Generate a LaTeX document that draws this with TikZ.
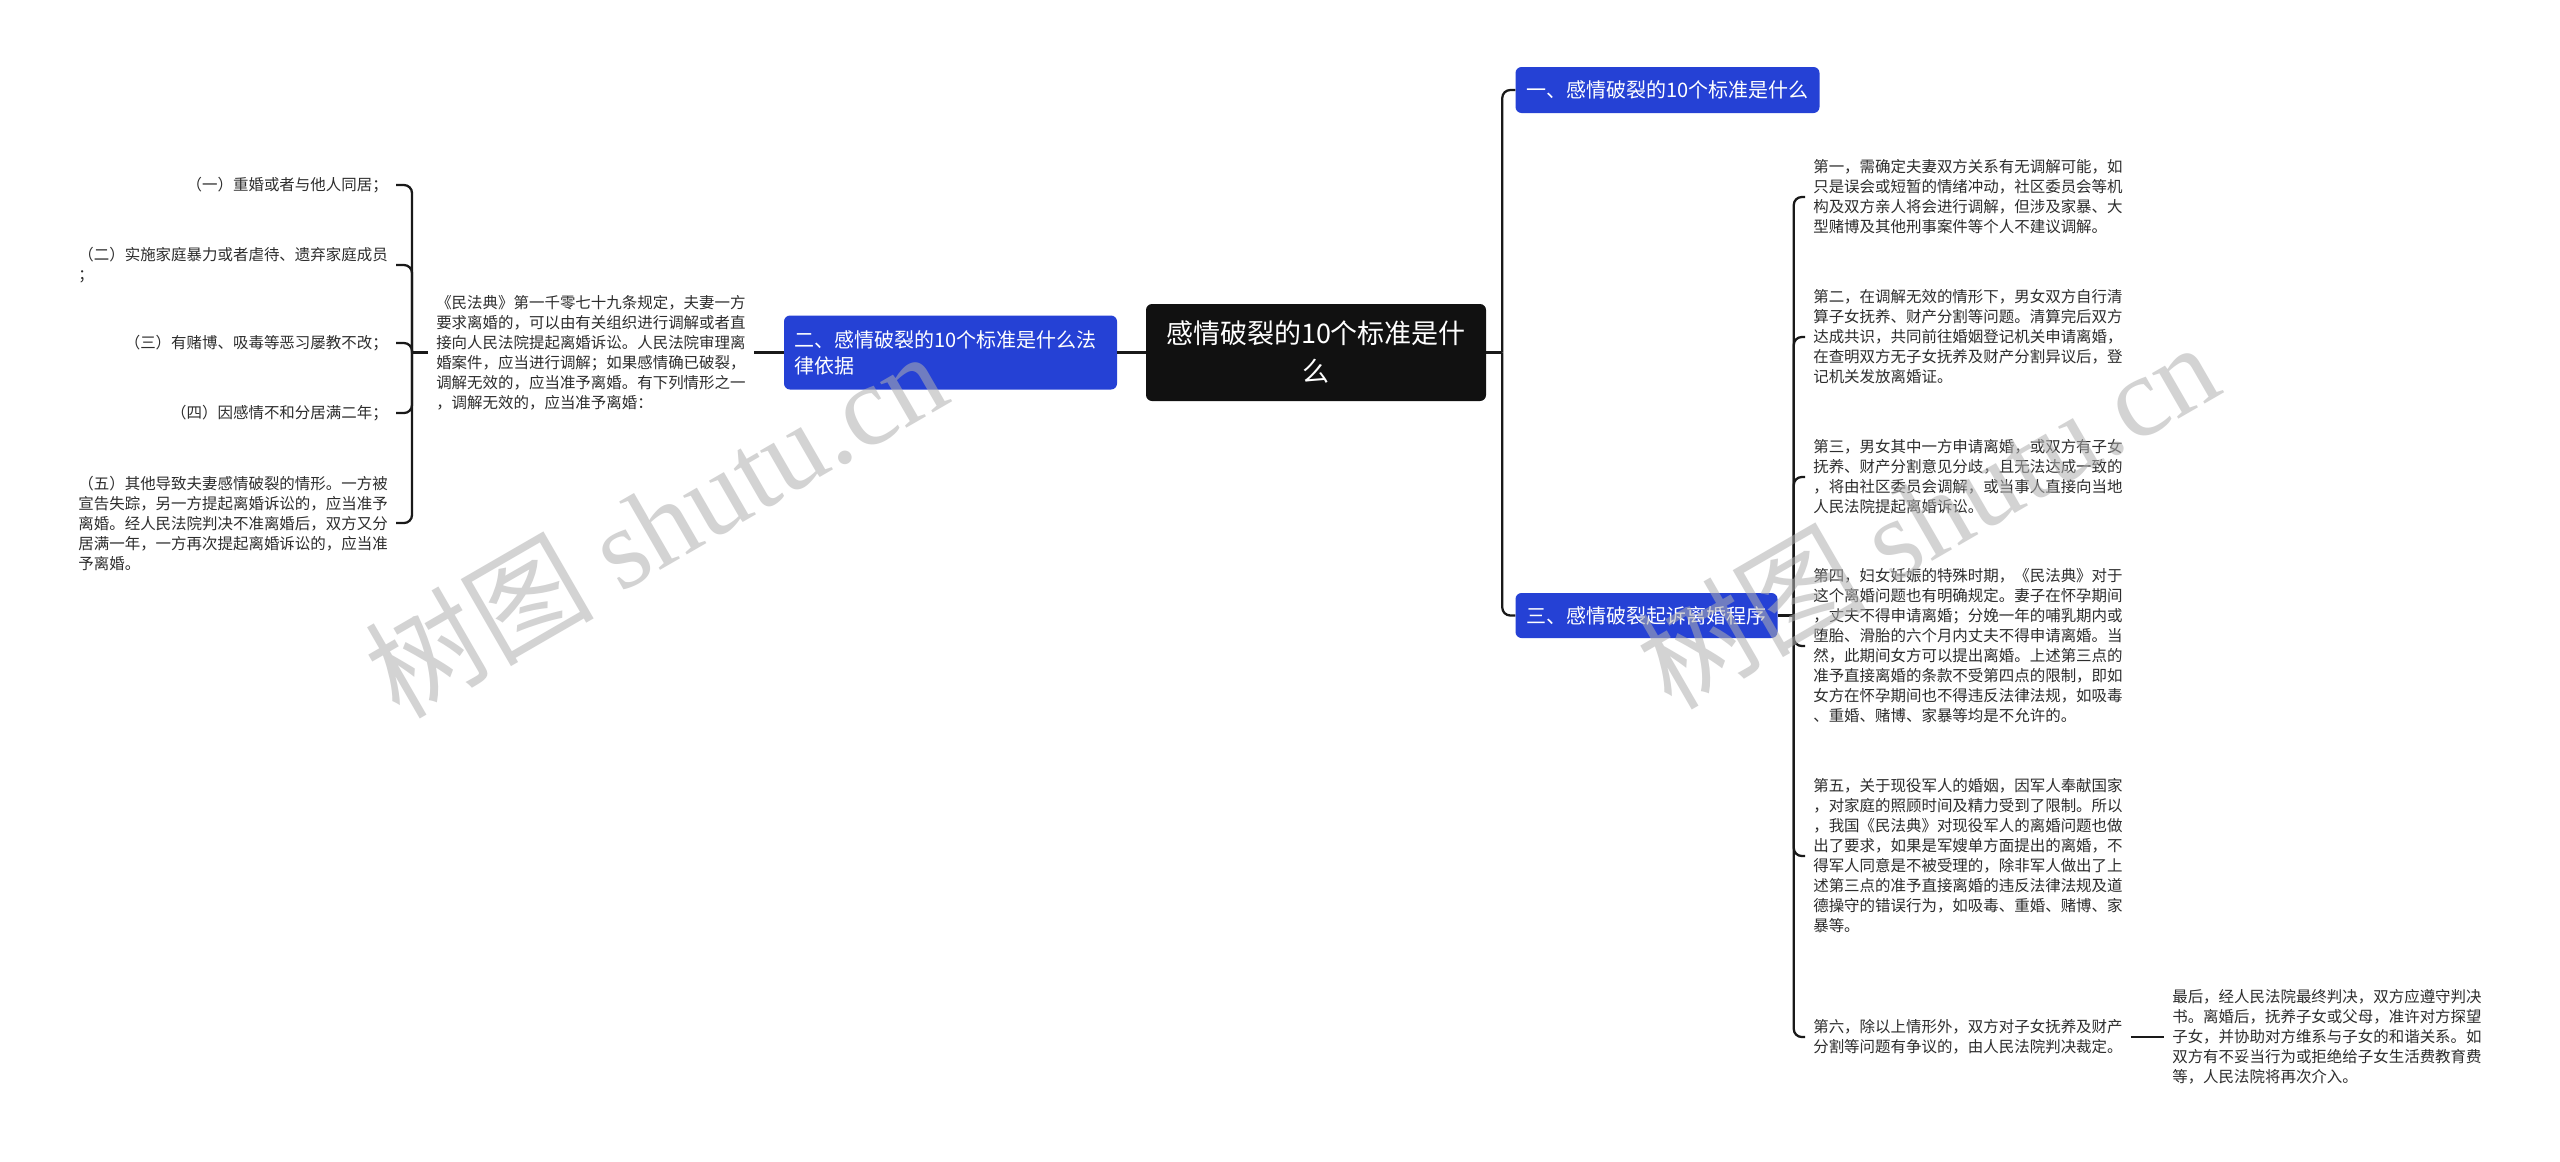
\documentclass[tikz,border=0pt]{standalone}
\usepackage{fontspec}
\newfontfamily\cjk{Noto Sans CJK SC}
\newfontfamily\wmserif{Liberation Serif}
\definecolor{blueboxc}{RGB}{37,65,213}
\definecolor{darkboxc}{RGB}{17,17,17}
\definecolor{connc}{RGB}{25,25,25}
\definecolor{leafc}{RGB}{45,45,45}
\definecolor{wmc}{RGB}{175,175,175}
\begin{document}
\begin{tikzpicture}[x=0.75pt,y=-0.75pt,
  leaf/.style={font=\cjk\fontsize{11.6}{15}\selectfont, align=left, inner xsep=6pt, inner ysep=3pt, text=leafc},
  bluenode/.style={fill=blueboxc, rounded corners=4.5pt, text=white, font=\cjk\fontsize{15}{19.5}\selectfont, inner sep=0pt},
  rootnode/.style={fill=darkboxc, rounded corners=4.5pt, text=white, font=\cjk\fontsize{20.25}{28.5}\selectfont, inner sep=0pt, align=center},
  conn/.style={draw=connc, line width=1.7pt, rounded corners=6pt},
  wmark/.style={font=\cjk\fontsize{86}{86}\selectfont, text=wmc, opacity=0.55, inner sep=0pt},
]
\useasboundingbox[fill=white] (0,0) rectangle (2560,1161);

% root and branches
\node[rootnode, minimum width=255pt, minimum height=72.75pt] (root) at (1316,352.5) {感情破裂的10个标准是什\\么};
\node[bluenode, minimum width=228pt, minimum height=34.5pt] (b1) at (1667.5,90) {一、感情破裂的10个标准是什么};
\node[bluenode, minimum width=196.5pt, minimum height=33.75pt] (b3) at (1646.5,615.5) {三、感情破裂起诉离婚程序};
\node[bluenode, minimum width=249.75pt, minimum height=55.5pt, text width=234.75pt, align=left] (b2) at (950.5,352.5) {二、感情破裂的10个标准是什么法\\律依据};

% left side
\node[leaf, anchor=west] (law) at (428,352.5) {《民法典》第一千零七十九条规定，夫妻一方\\要求离婚的，可以由有关组织进行调解或者直\\接向人民法院提起离婚诉讼。人民法院审理离\\婚案件，应当进行调解；如果感情确已破裂，\\调解无效的，应当准予离婚。有下列情形之一\\，调解无效的，应当准予离婚：};
\node[leaf, anchor=east] (l1) at (396,185) {（一）重婚或者与他人同居；};
\node[leaf, anchor=east] (l2) at (396,265) {（二）实施家庭暴力或者虐待、遗弃家庭成员\\；};
\node[leaf, anchor=east] (l3) at (396,343) {（三）有赌博、吸毒等恶习屡教不改；};
\node[leaf, anchor=east] (l4) at (396,413) {（四）因感情不和分居满二年；};
\node[leaf, anchor=east] (l5) at (396,523) {（五）其他导致夫妻感情破裂的情形。一方被\\宣告失踪，另一方提起离婚诉讼的，应当准予\\离婚。经人民法院判决不准离婚后，双方又分\\居满一年，一方再次提起离婚诉讼的，应当准\\予离婚。};

% right side
\node[leaf, anchor=west] (r1) at (1805,197) {第一，需确定夫妻双方关系有无调解可能，如\\只是误会或短暂的情绪冲动，社区委员会等机\\构及双方亲人将会进行调解，但涉及家暴、大\\型赌博及其他刑事案件等个人不建议调解。};
\node[leaf, anchor=west] (r2) at (1805,337) {第二，在调解无效的情形下，男女双方自行清\\算子女抚养、财产分割等问题。清算完后双方\\达成共识，共同前往婚姻登记机关申请离婚，\\在查明双方无子女抚养及财产分割异议后，登\\记机关发放离婚证。};
\node[leaf, anchor=west] (r3) at (1805,477) {第三，男女其中一方申请离婚，或双方有子女\\抚养、财产分割意见分歧，且无法达成一致的\\，将由社区委员会调解，或当事人直接向当地\\人民法院提起离婚诉讼。};
\node[leaf, anchor=west] (r4) at (1805,646) {第四，妇女妊娠的特殊时期，《民法典》对于\\这个离婚问题也有明确规定。妻子在怀孕期间\\，丈夫不得申请离婚；分娩一年的哺乳期内或\\堕胎、滑胎的六个月内丈夫不得申请离婚。当\\然，此期间女方可以提出离婚。上述第三点的\\准予直接离婚的条款不受第四点的限制，即如\\女方在怀孕期间也不得违反法律法规，如吸毒\\、重婚、赌博、家暴等均是不允许的。};
\node[leaf, anchor=west] (r5) at (1805,856) {第五，关于现役军人的婚姻，因军人奉献国家\\，对家庭的照顾时间及精力受到了限制。所以\\，我国《民法典》对现役军人的离婚问题也做\\出了要求，如果是军嫂单方面提出的离婚，不\\得军人同意是不被受理的，除非军人做出了上\\述第三点的准予直接离婚的违反法律法规及道\\德操守的错误行为，如吸毒、重婚、赌博、家\\暴等。};
\node[leaf, anchor=west] (r6) at (1805,1037) {第六，除以上情形外，双方对子女抚养及财产\\分割等问题有争议的，由人民法院判决裁定。};
\node[leaf, anchor=west] (r7) at (2164,1037) {最后，经人民法院最终判决，双方应遵守判决\\书。离婚后，抚养子女或父母，准许对方探望\\子女，并协助对方维系与子女的和谐关系。如\\双方有不妥当行为或拒绝给子女生活费教育费\\等，人民法院将再次介入。};

% connectors
\coordinate (jr) at ([xshift=12pt]root.east);
\coordinate (j3) at ([xshift=12pt]b3.east);
\coordinate (jl) at ([xshift=-12pt]law.west);
\draw[conn] (root.east) -- (jr);
\draw[conn] (jr) |- (b1.west);
\draw[conn] (jr) |- (b3.west);
\draw[conn] (root.west) -- (b2.east);
\draw[conn] (b2.west) -- (law.east);
\draw[conn] (law.west) -- (jl);
\foreach \c in {l1,l2,l3,l4,l5} \draw[conn] (jl) |- (\c.east);
\draw[conn] (b3.east) -- (j3);
\foreach \c in {r1,r2,r3,r4,r5,r6} \draw[conn] (j3) |- (\c.west);
\draw[conn] (r6.east) -- (r7.west);

% watermarks
\node[wmark, rotate=30] (wm1) at (655,523) {树图 {\wmserif shutu.cn}};
\node[wmark, rotate=30] (wm2) at (1927,514) {树图 {\wmserif shutu.cn}};
\end{tikzpicture}
\end{document}
